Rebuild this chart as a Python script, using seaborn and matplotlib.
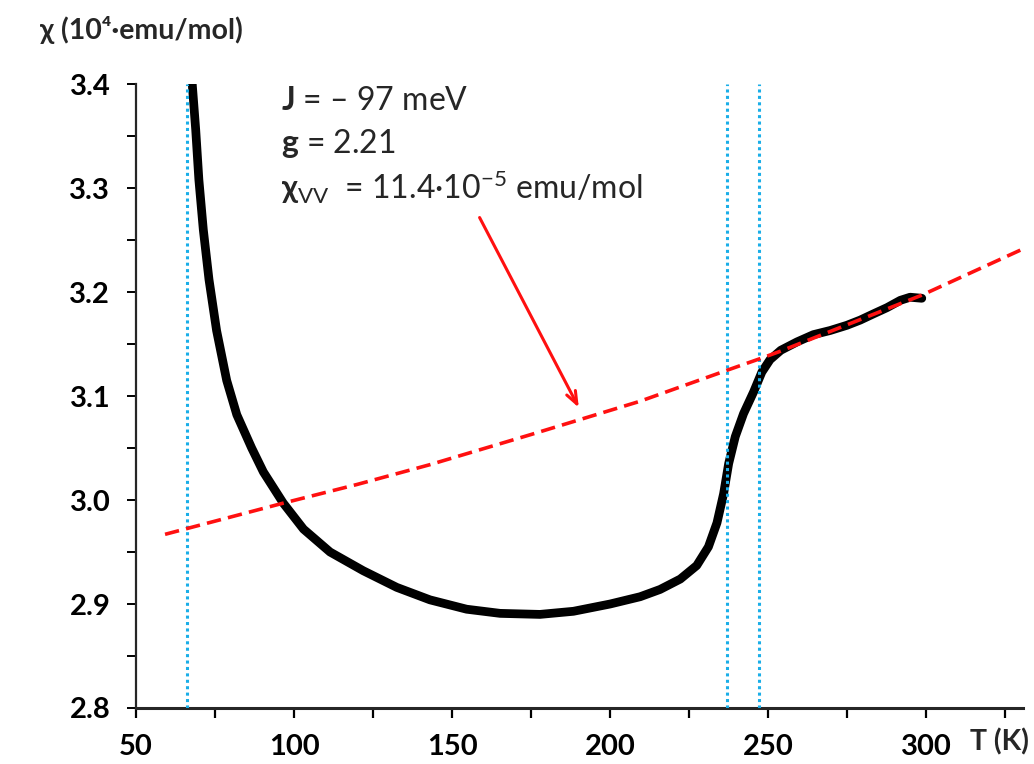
import matplotlib
matplotlib.use('Agg')
import matplotlib.pyplot as plt
import seaborn as sns
import pandas as pd

T_meas = [67.8, 68.9, 69.9, 71.3, 73.1, 75.5, 78.7, 81.9, 86.6, 90.3, 96.6,
          103.0, 111.4, 121.9, 132.5, 143.0, 154.6, 165.2, 177.8, 188.4, 200.0,
          209.5, 215.8, 222.2, 227.4, 231.1, 233.8, 235.9, 237.5, 239.6, 242.2,
          245.4, 248.0, 250.6, 254.0, 259.1, 264.3, 269.6, 274.9, 279.1, 283.3,
          287.6, 291.8, 294.9, 298.6]
chi_meas = [3.400, 3.356, 3.308, 3.260, 3.212, 3.163, 3.115, 3.082, 3.050, 3.027, 2.997,
            2.972, 2.950, 2.932, 2.916, 2.904, 2.895, 2.891, 2.890, 2.893, 2.900,
            2.907, 2.914, 2.924, 2.937, 2.955, 2.978, 3.006, 3.035, 3.061, 3.083,
            3.104, 3.123, 3.135, 3.144, 3.152, 3.159, 3.163, 3.168, 3.173, 3.179,
            3.185, 3.192, 3.195, 3.194]

# fitted curve (red dashed)
T_fit = [59.2, 96.6, 120.0, 143.0, 175.0, 209.5, 237.2, 247.5, 253.8, 298.6, 330.3]
chi_fit = [2.967, 2.997, 3.015, 3.034, 3.063, 3.095, 3.125, 3.136, 3.143, 3.197, 3.241]

# vertical marker lines
T_marks = [66, 237, 247]

x_ticks = [50, 100, 150, 200, 250, 300]
x_minor = [75, 125, 175, 225, 275, 325]
y_ticks = [2.8, 2.9, 3.0, 3.1, 3.2, 3.3, 3.4]
y_minor = [2.85, 2.95, 3.05, 3.15, 3.25, 3.35]

sns.set_style('ticks')
plt.rcParams['font.family'] = ['Lato', 'DejaVu Sans']
plt.rcParams['mathtext.fontset'] = 'custom'
plt.rcParams['mathtext.rm'] = 'Lato'
plt.rcParams['mathtext.bf'] = 'Lato:bold'
plt.rcParams['mathtext.it'] = 'Lato:italic'
plt.rcParams['mathtext.fallback'] = 'stix'

fig = plt.figure(figsize=(10.34, 7.64), dpi=100)
ax = fig.add_axes([0.1315, 0.0733, 0.8575, 0.8167])

df_meas = pd.DataFrame({'T': T_meas, 'chi': chi_meas})
df_fit = pd.DataFrame({'T': T_fit, 'chi': chi_fit})

sns.lineplot(data=df_meas, x='T', y='chi', ax=ax, color='black', lw=6.3,
             sort=False, estimator=None, zorder=2,
             solid_joinstyle='round', solid_capstyle='round')
for t in T_marks:
    ax.axvline(t, color='#1AAEE8', lw=2.2, ls=(0, (1, 1.1)), zorder=3)
sns.lineplot(data=df_fit, x='T', y='chi', ax=ax, color='#FF1010', lw=2.6,
             ls=(0, (4, 2)), sort=False, estimator=None, zorder=4)

ax.set_xlim(50, 330.5)
ax.set_ylim(2.8, 3.4)
ax.set_xticks(x_ticks)
ax.set_xticks(x_minor, minor=True)
ax.set_yticks(y_ticks)
ax.set_yticks(y_minor, minor=True)
ax.set_xticklabels([str(v) for v in x_ticks])
ax.set_yticklabels([f'{v:.1f}' for v in y_ticks])
ax.tick_params(axis='x', which='both', direction='out', length=7, width=1.6,
               pad=12, labelsize=21, colors='black')
ax.tick_params(axis='y', which='both', direction='out', length=6.5, width=1.4,
               pad=12, labelsize=21, colors='black')
for lab in ax.get_xticklabels() + ax.get_yticklabels():
    lab.set_fontweight('bold')
for s in ['top', 'right']:
    ax.spines[s].set_visible(False)
ax.spines['left'].set_linewidth(1.6)
ax.spines['bottom'].set_linewidth(2.2)
ax.set_xlabel('')
ax.set_ylabel('')

# axis titles
fig.text(40 / 1034, 1 - 30 / 764, 'χ (10⁴·emu/mol)', fontsize=20.5, fontweight='bold',
         va='center', ha='left')
fig.text(970 / 1034, 1 - 742 / 764, 'T (K)', fontsize=20.5, fontweight='bold',
         va='center', ha='left')

# parameters
ax.text(95.9, 3.375, r'$\mathbf{J}$ = – 97 meV', fontsize=23, va='baseline')
ax.text(95.9, 3.3334, r'$\mathbf{g}$ = 2.21', fontsize=23, va='baseline')
ax.text(95.9, 3.2891, r'$\mathbf{\chi}_{\mathrm{VV}}$  = 11.4·10$^{\mathrm{-5}}$ emu/mol',
        fontsize=23, va='baseline')

ax.annotate('', xy=(190.5, 3.0865), xytext=(158.3, 3.274),
            arrowprops=dict(arrowstyle='->,head_length=0.9,head_width=0.35',
                            color='#FF1010', lw=2.2))

fig.savefig('out.png', dpi=100)
